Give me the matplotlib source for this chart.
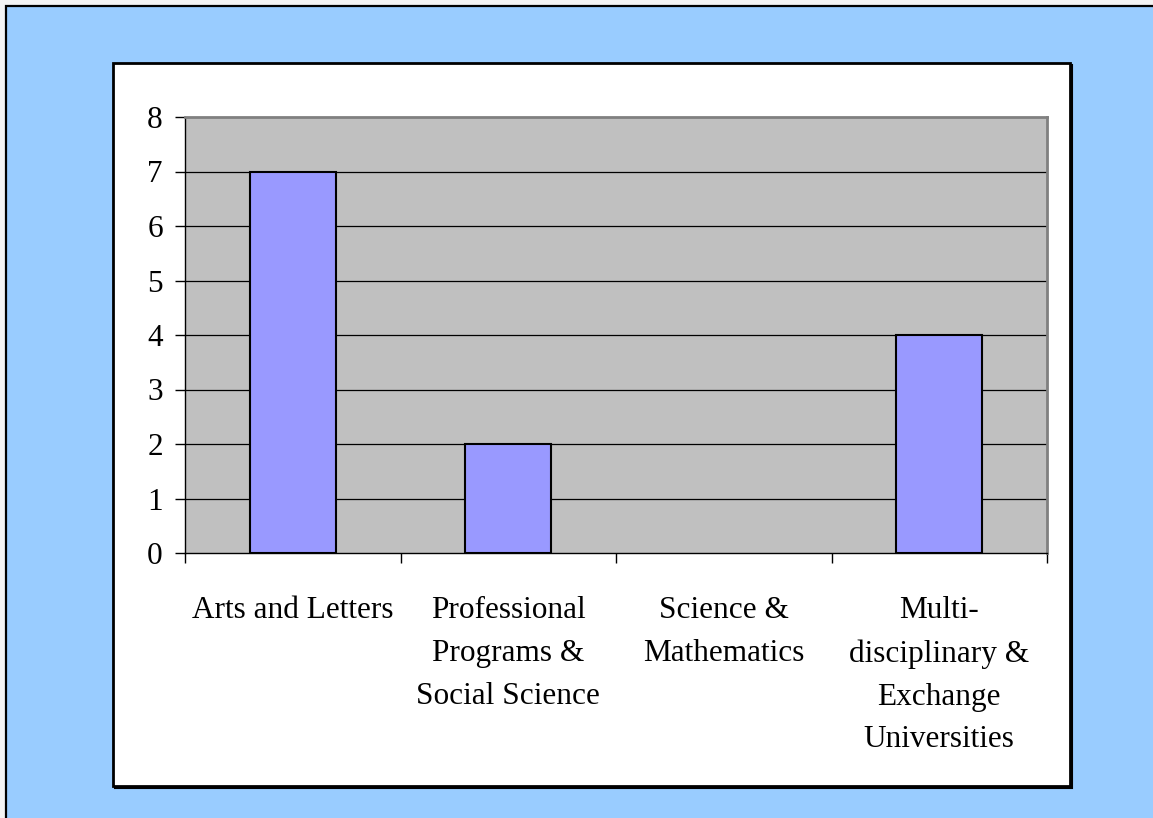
import numpy as np
import matplotlib
matplotlib.use('Agg')
from matplotlib import pyplot as plt
from matplotlib.patches import Rectangle

categories = ['Arts and Letters',
              'Professional\nPrograms &\nSocial Science',
              'Science &\nMathematics',
              'Multi-\ndisciplinary &\nExchange\nUniversities']
values = [7, 2, 0, 4]
y_ticks = [0, 1, 2, 3, 4, 5, 6, 7, 8]

W, H = 1153, 818
plt.rcParams['font.family'] = ['Liberation Serif', 'DejaVu Serif']

fig = plt.figure(figsize=(W / 100, H / 100), dpi=100, facecolor='#F4F4F4')

def fx(px): return px / W
def fy(py): return 1 - py / H

# outer blue slide frame (only top/left edges visible)
fig.add_artist(Rectangle((fx(6), -0.1), 2, fy(6) + 0.1, transform=fig.transFigure,
                         facecolor='#99CCFF', edgecolor='black', linewidth=1.6, zorder=-10))
# shadow + white chart box
fig.add_artist(Rectangle((fx(115), fy(788)), fx(1070 - 113), (786 - 63) / H,
                         transform=fig.transFigure, facecolor='black', edgecolor='black',
                         linewidth=1.5, zorder=-9))
fig.add_artist(Rectangle((fx(113), fy(786)), fx(1070 - 113), (786 - 63) / H,
                         transform=fig.transFigure, facecolor='white', edgecolor='black',
                         linewidth=2, zorder=-8))

ax = fig.add_axes([fx(185), fy(553), fx(1047 - 185), (553 - 117) / H])
ax.set_facecolor('#C0C0C0')

x = np.arange(len(categories))
edges = ['black' if v else 'none' for v in values]
ax.bar(x, values, width=0.4, color='#9999FF', edgecolor=edges, linewidth=1.5, zorder=3)

ax.set_xlim(-0.5, len(categories) - 0.5)
ax.set_ylim(0, 8)
ax.set_yticks(y_ticks)
for yv in y_ticks[1:-1]:
    ax.axhline(yv, color='black', linewidth=0.9, zorder=1)

ax.set_xticks(np.arange(len(categories) + 1) - 0.5)
ax.set_xticklabels([])
ax.set_xticks(x, minor=True)
ax.set_xticklabels(categories, minor=True, fontsize=22.5, linespacing=1.63, va='top')
ax.tick_params(axis='x', which='major', direction='out', length=7, width=1, color='black')
ax.tick_params(axis='x', which='minor', length=0, pad=31)
ax.tick_params(axis='y', direction='out', length=7, width=1, labelsize=22.5, pad=9)

for s in ['top', 'right']:
    ax.spines[s].set_color('#808080')
    ax.spines[s].set_linewidth(2)
for s in ['left', 'bottom']:
    ax.spines[s].set_color('black')
    ax.spines[s].set_linewidth(1)

fig.savefig('out.png', dpi=100, facecolor=fig.get_facecolor())
